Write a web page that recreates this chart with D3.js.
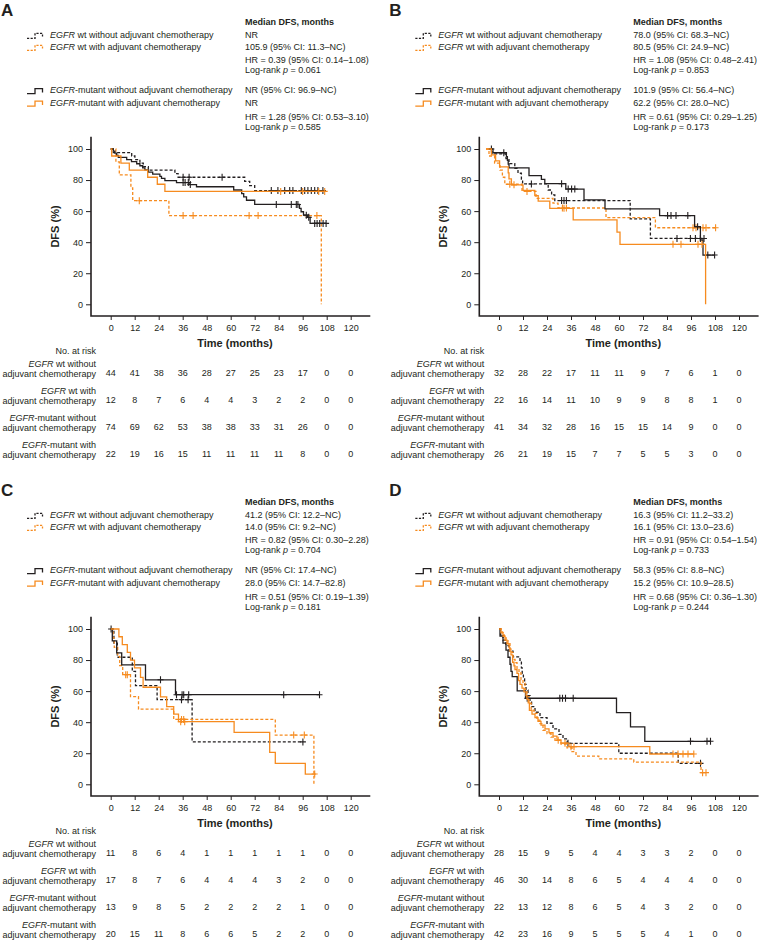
<!DOCTYPE html>
<html><head><meta charset="utf-8">
<script src="https://cdn.jsdelivr.net/npm/d3@7"></script>
<style>body{margin:0;background:#fff}svg{display:block}</style>
</head><body>
<svg id="c" width="759" height="943"></svg>
<script>
// ---------- shared labels ----------
const panelIds = ["A","B","C","D"];
const xTicks = [0,12,24,36,48,60,72,84,96,108,120];
const yTicks = [0,20,40,60,80,100];
const groupLegend = [" wt without adjuvant chemotherapy"," wt with adjuvant chemotherapy","-mutant without adjuvant chemotherapy","-mutant with adjuvant chemotherapy"];
const riskLine1 = [" wt without"," wt with","-mutant without","-mutant with"];

// ---------- panel A ----------
const aWtNo = [[0,100],[1.3,97.7],[10.5,95.5],[12.1,93.2],[14.6,90.9],[16.3,88.6],[18.8,86.4],[32.1,84.1],[33.7,81.8],[67,79.2],[69.5,76.4],[72,73.2],[106.5,73.2]];
const aWtNoCens = [36.2,39.2,55.7,80.3,83.6,87,89.5,91.1,95.3,97,98.6,100.3,102,103.6,106.1];
const aWtWith = [[0,100],[2.6,91.7],[4.3,83.3],[10.1,75],[11,66.7],[29.1,57.1],[105.3,0]];
const aWtWithCens = [14.3,36.2,41.2,69.2,73.7,103.1];
const aMutNo = [[0,100],[1.3,98.6],[2.1,97.3],[3,95.9],[3.8,94.6],[8,93.2],[10.4,91.9],[13,90.5],[14.6,89.2],[16,87.8],[17.1,86.5],[18.8,85.1],[21,83.8],[24.6,82.4],[25.4,81.1],[27.1,79.7],[32.9,78.4],[39.2,77.1],[42.9,75.7],[61.5,73.6],[65.5,71.3],[66.5,69.2],[67.9,67],[72,64.3],[94.4,61.8],[95.2,59.6],[96.4,57.4],[98.4,56],[99.7,52.1],[107.7,52.1]];
const aMutNoCens = [36.2,37.2,38.8,39.8,82.8,90.3,92.8,93.6,97.8,99,102,103.2,104.5,106.2,107.7];
const aMutWith = [[0,100],[0.5,95.5],[5.1,90.9],[9.3,86.4],[18.5,81.8],[23.3,77.3],[27.1,72.7],[107,72.7]];
const aMutWithCens = [85,96,104,107];
const aStats = ["NR","105.9 (95% CI: 11.3–NC)","HR = 0.39 (95% CI: 0.14–1.08)","NR (95% CI: 96.9–NC)","NR","HR = 1.28 (95% CI: 0.53–3.10)"];
const aP = ["0.061","0.585"];
const aRisk = [[44,41,38,36,28,27,25,23,17,0,0],[12,8,7,6,4,4,3,2,2,0,0],[74,69,62,53,38,38,33,31,26,0,0],[22,19,16,15,11,11,11,11,8,0,0]];

// ---------- panel B ----------
const bWtNo = [[-5,100],[-3.5,96.9],[3.5,93.8],[5,90.6],[7.9,87.5],[9.5,84.4],[11.2,80.6],[11.8,77.5],[24.6,73.6],[26.3,70.4],[27.9,66.8],[65.6,55],[75.7,42.4],[102.5,42.4]];
const bWtNoCens = [16.2,31.3,32.5,33.7,89,95.7,98.2,100.7,102.5];
const bWtWith = [[-6.5,100],[-5,95.5],[-2.2,90.9],[0.5,86.4],[1.7,81.8],[2.9,77.3],[11.5,72.7],[18.5,68.2],[27,65.1],[29.5,62],[53.5,55.8],[78.2,49.3],[108.3,49.3]];
const bWtWithCens = [5.4,14,31.7,33.7,97,98.5,102,103.5,108.3];
const bMutNo = [[-5,100],[-3,97.6],[3.7,95.1],[4.2,92.7],[4.6,90.2],[5,87.8],[15,82.9],[21.2,80.5],[22.9,77.7],[33.4,74.2],[42.5,67.2],[53,61.4],[80.3,57.1],[97.8,50],[100.7,41.4],[102,31.7],[107.8,31.7]];
const bMutNoCens = [-3.8,2.4,31.3,34.6,36.3,37.9,84.3,86,88.5,94.4,99.3,104.4,107.8];
const bMutWith = [[-6.5,100],[-3.8,96.2],[-1.7,92.3],[0.3,88.5],[4.6,84.6],[5,80.8],[6.2,76.9],[12,73.3],[17.9,70],[19.6,66.5],[25.4,61.8],[37.1,54.3],[59,46.5],[60.5,38.6],[103.3,0]];
const bMutWithCens = [7.5,32.5,87,91,99.5,101.5];
const bStats = ["78.0 (95% CI: 68.3–NC)","80.5 (95% CI: 24.9–NC)","HR = 1.08 (95% CI: 0.48–2.41)","101.9 (95% CI: 56.4–NC)","62.2 (95% CI: 28.0–NC)","HR = 0.61 (95% CI: 0.29–1.25)"];
const bP = ["0.853","0.173"];
const bRisk = [[32,28,22,17,11,11,9,7,6,1,0],[22,16,14,11,10,9,9,8,8,1,0],[41,34,32,28,16,15,15,14,9,0,0],[26,21,19,15,7,7,5,5,3,0,0]];

// ---------- panel C ----------
const cWtNo = [[0,100],[1.6,90.9],[3.3,81.8],[10.8,72.7],[12.4,63.6],[23.2,54.5],[40.7,27.3],[96.1,27.3]];
const cWtNoCens = [35.4,38.7,96.1];
const cWtWith = [[0,100],[1.2,94.1],[1.8,88.2],[3.5,82.4],[4.5,76.5],[6,70.6],[9.9,56.5],[13.9,48.4],[31.5,41.8],[82.3,31.7],[101.6,0]];
const cWtWithCens = [7.5,8.3,35.4,36.5,91.5,96.8];
const cMutNo = [[0,100],[0.8,92.3],[3,84.6],[5.5,76.9],[17.4,67.3],[32.4,57.7],[104.4,57.7]];
const cMutNoCens = [0.2,24.9,32.9,35.7,36.5,39,86.5,104.4];
const cMutWith = [[0,100],[4.1,95],[5.8,90],[8.3,85],[9.9,80],[11.9,75],[14.9,68.8],[16.2,62.5],[24.9,56.3],[28,50],[31.5,45.2],[33.9,40.3],[61.7,33.5],[79.5,20.6],[82.3,13.5],[97.3,6.6],[102.5,6.6]];
const cMutWithCens = [35,37,102];
const cStats = ["41.2 (95% CI: 12.2–NC)","14.0 (95% CI: 9.2–NC)","HR = 0.82 (95% CI: 0.30–2.28)","NR (95% CI: 17.4–NC)","28.0 (95% CI: 14.7–82.8)","HR = 0.51 (95% CI: 0.19–1.39)"];
const cP = ["0.704","0.181"];
const cRisk = [[11,8,6,4,1,1,1,1,1,0,0],[17,8,7,6,4,4,4,3,2,0,0],[13,9,8,5,2,2,2,2,1,0,0],[20,15,11,8,6,6,5,2,2,0,0]];

// ---------- panel D ----------
const dWtNo = [[0,100],[0.8,96.4],[2,92.9],[3.5,89.3],[5,85.7],[7,82.1],[10.5,78.6],[11.2,75],[11.6,71.4],[12.2,67.9],[12.8,64.3],[13.5,60.7],[14.5,57.1],[15.5,53.6],[16.3,50],[18,46.4],[20.5,42.9],[24,39.3],[27,35.7],[30,32.1],[32,29.2],[34.1,26.4],[59.9,20],[89.6,13.5],[100.75,13.5]];
const dWtNoCens = [34.5,100.75];
const dWtWith = [[0,100],[1.5,97.8],[2.5,95.7],[3.5,93.5],[4.5,91.3],[5.5,87],[6.5,84.8],[7,80.4],[8,78.3],[9,73.9],[10,71.7],[11,67.4],[12,65.2],[13,60.9],[14,56.5],[15,52.2],[16.1,47.8],[17.5,45.7],[19,41.3],[20.5,39.1],[22,34.8],[24,32.6],[26,30.4],[28,28.3],[31,25.9],[34,23.5],[36.5,21],[38.5,18.2],[49.9,16.4],[67.4,14.3],[101,7.5],[103.5,7.5]];
const dWtWithCens = [29.6,101.8,103.5];
const dMutNo = [[0,100],[0.5,95.5],[2,90.9],[3.5,86.4],[4.5,81.8],[5.5,77.3],[6,72.7],[6.6,69.3],[9.1,60.1],[13.25,55.4],[58.75,46.2],[65.75,37],[72.9,27.7],[105.75,27.7]];
const dMutNoCens = [14.1,30.4,31.75,33.25,37.1,95.75,104,105.75];
const dMutWith = [[0,100],[1,97.6],[2,95.2],[3,92.9],[4,90.5],[5,88.1],[5.5,85.7],[6,83.3],[6.8,78.6],[7.5,76.2],[8,73.8],[9,71.4],[9.8,66.7],[10.5,64.3],[11.5,61.9],[12.5,59.5],[13.5,57.1],[14,54.8],[14.6,52.4],[15.2,47.6],[16.5,45.2],[18,42.9],[19.5,40.5],[21,38.1],[23,35.7],[25,33.3],[27,31],[29,28.6],[31,26.5],[35,24.2],[75.4,19.5],[97.4,19.5]];
const dMutWithCens = [33,36,37.5,87,89.5,92,94.5,97.4];
const dStats = ["16.3 (95% CI: 11.2–33.2)","16.1 (95% CI: 13.0–23.6)","HR = 0.91 (95% CI: 0.54–1.54)","58.3 (95% CI: 8.8–NC)","15.2 (95% CI: 10.9–28.5)","HR = 0.68 (95% CI: 0.36–1.30)"];
const dP = ["0.733","0.244"];
const dRisk = [[28,15,9,5,4,4,3,3,2,0,0],[46,30,14,8,6,5,4,4,4,0,0],[22,13,12,8,6,5,4,3,2,0,0],[42,23,16,9,5,5,5,4,1,0,0]];

// ---------- drawing ----------
const INK = "#231f20", ORANGE = "#f68b1f";
const FONT = "'Liberation Sans', Arial, Helvetica, sans-serif";
const styles = [
  {color: INK, dash: "3,2"},
  {color: ORANGE, dash: "3,2"},
  {color: INK, dash: null},
  {color: ORANGE, dash: null}
];
const panels = [
  {id: panelIds[0], ox: 0, oy: 0, curves: [aWtNo, aWtWith, aMutNo, aMutWith], cens: [aWtNoCens, aWtWithCens, aMutNoCens, aMutWithCens], stats: aStats, p: aP, risk: aRisk},
  {id: panelIds[1], ox: 388.3, oy: 0, curves: [bWtNo, bWtWith, bMutNo, bMutWith], cens: [bWtNoCens, bWtWithCens, bMutNoCens, bMutWithCens], stats: bStats, p: bP, risk: bRisk},
  {id: panelIds[2], ox: 0, oy: 480, curves: [cWtNo, cWtWith, cMutNo, cMutWith], cens: [cWtNoCens, cWtWithCens, cMutNoCens, cMutWithCens], stats: cStats, p: cP, risk: cRisk},
  {id: panelIds[3], ox: 388.3, oy: 480, curves: [dWtNo, dWtWith, dMutNo, dMutWith], cens: [dWtNoCens, dWtWithCens, dMutNoCens, dMutWithCens], stats: dStats, p: dP, risk: dRisk}
];

const svg = d3.select("#c")
  .attr("font-family", FONT).attr("font-size", 9).attr("fill", INK);

function survAt(steps, t) {
  let s = steps[0][1];
  for (const d of steps) { if (d[0] <= t) s = d[1]; else break; }
  return s;
}

function drawPanel(p) {
  const g = svg.append("g").attr("transform", `translate(${p.ox},${p.oy})`);
  const x = d3.scaleLinear().domain([0, 120]).range([110.7, 350.7]);
  const y = d3.scaleLinear().domain([0, 100]).range([304.3, 149]);

  // panel letter
  g.append("text").attr("x", 1).attr("y", 16).attr("font-size", 17).attr("font-weight", "bold").text(p.id);

  // header / legend
  g.append("text").attr("x", 245).attr("y", 25.3).attr("font-weight", "bold").text("Median DFS, months");
  const legendY = [37.7, 49.7, 93, 105.5];
  legendY.forEach((ly, i) => {
    const st = styles[i];
    g.append("path")
      .attr("d", `M27,${ly + 0.6}h8v-5h7.5v4`)
      .attr("fill", "none").attr("stroke", st.color).attr("stroke-width", 1.3)
      .attr("stroke-dasharray", st.dash ? "2.2,1.4" : null);
    const t = g.append("text").attr("x", 50).attr("y", ly);
    t.append("tspan").attr("font-style", "italic").text("EGFR");
    t.append("tspan").text(groupLegend[i]);
  });
  const statY = [37.7, 49.7, 63.3, 93, 105.5, 119.5];
  statY.forEach((sy, i) => {
    g.append("text").attr("x", 245).attr("y", sy).text(p.stats[i]);
  });
  [73.3, 130].forEach((ly, i) => {
    const t = g.append("text").attr("x", 245).attr("y", ly);
    t.append("tspan").text("Log-rank ");
    t.append("tspan").attr("font-style", "italic").text("p");
    t.append("tspan").text(" = " + p.p[i]);
  });

  // axes
  const yAx = g.append("g").attr("transform", "translate(91,0)")
    .call(d3.axisLeft(y).tickValues(yTicks).tickSize(5).tickPadding(3));
  const xAx = g.append("g").attr("transform", "translate(0,316)")
    .call(d3.axisBottom(x).tickValues(xTicks).tickSize(4).tickPadding(4.6));
  [yAx, xAx].forEach(a => {
    a.select(".domain").remove();
    a.selectAll("line").attr("stroke", INK).attr("stroke-width", 1);
    a.selectAll("text").attr("font-family", FONT).attr("font-size", 9).attr("fill", INK);
  });
  g.append("path").attr("d", "M91,136.7V316H370.3")
    .attr("fill", "none").attr("stroke", INK).attr("stroke-width", 1.6);

  g.append("text").attr("transform", "translate(59,226.5) rotate(-90)")
    .attr("text-anchor", "middle").attr("font-size", 11).attr("font-weight", "bold").text("DFS (%)");
  g.append("text").attr("x", 235).attr("y", 347.3)
    .attr("text-anchor", "middle").attr("font-size", 11).attr("font-weight", "bold").text("Time (months)");

  // curves
  const line = d3.line().x(d => x(d[0])).y(d => y(d[1])).curve(d3.curveStepAfter);
  p.curves.forEach((c, i) => {
    const st = styles[i];
    g.append("path").attr("d", line(c))
      .attr("fill", "none").attr("stroke", st.color).attr("stroke-width", 1.3)
      .attr("stroke-dasharray", st.dash);
    g.append("g").selectAll("path").data(p.cens[i]).join("path")
      .attr("d", t => {
        const cx = x(t), cy = y(survAt(c, t));
        return `M${cx - 3},${cy}H${cx + 3}M${cx},${cy - 3.5}V${cy + 3.5}`;
      })
      .attr("fill", "none").attr("stroke", st.color).attr("stroke-width", 1.1);
  });

  // risk table
  g.append("text").attr("x", 96).attr("y", 353.7).attr("text-anchor", "end").text("No. at risk");
  p.risk.forEach((row, i) => {
    const r = 375.8 + i * 27.2;
    const t1 = g.append("text").attr("x", 96).attr("y", r - 9).attr("text-anchor", "end");
    t1.append("tspan").attr("font-style", "italic").text("EGFR");
    t1.append("tspan").text(riskLine1[i]);
    g.append("text").attr("x", 96).attr("y", r + 0.8).attr("text-anchor", "end").text("adjuvant chemotherapy");
    g.append("g").selectAll("text").data(row).join("text")
      .attr("x", (d, j) => x(xTicks[j])).attr("y", r)
      .attr("text-anchor", "middle").text(d => d);
  });
}

panels.forEach(drawPanel);
</script>
</body></html>
